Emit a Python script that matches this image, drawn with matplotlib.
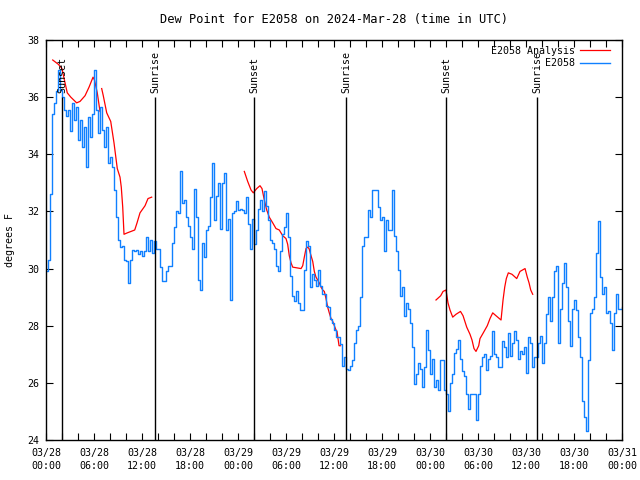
import numpy as np
import matplotlib
matplotlib.use('Agg')
import matplotlib.pyplot as plt

# hours since 2024-03-28 00:00 UTC
obs_step = 0.25
obs_vals = [
    29.9, 30.3, 32.6, 35.4, 35.8, 36.2, 36.95, 36.25,
    36.0, 35.55, 35.35, 35.55, 34.8, 35.8, 35.2, 35.65,
    34.5, 35.2, 34.25, 34.95, 33.55, 35.3, 34.6, 35.4,
    36.95, 35.55, 34.75, 35.65, 34.85, 34.25, 34.95, 33.7,
    33.9, 33.55, 32.75, 31.8, 31.0, 30.75, 30.8, 30.3,
    30.25, 29.5, 30.3, 30.65, 30.6, 30.65, 30.5, 30.6,
    30.45, 30.6, 31.1, 30.6, 31.0, 30.55, 30.95, 30.7,
    30.7, 30.05, 29.55, 29.55, 29.9, 30.1, 30.1, 30.9,
    31.45, 32.0, 31.95, 33.4, 32.3, 32.4, 31.8, 31.5,
    31.1, 30.7, 32.8, 31.8, 29.6, 29.25, 30.9, 30.4,
    31.35, 31.5, 32.5, 33.7, 31.7, 32.55, 33.0, 31.4,
    33.0, 33.35, 31.35, 31.75, 28.9, 31.95, 32.0, 32.35,
    32.05, 32.1, 32.05, 31.95, 32.5, 31.55, 30.7, 31.75,
    30.85, 31.35, 32.1, 32.4, 32.0, 32.7, 32.2, 31.7,
    31.0, 30.9, 30.7, 30.1, 29.9, 30.6, 31.2, 31.45,
    31.95, 31.1, 29.75, 29.05, 28.85, 29.2, 28.8, 28.55,
    28.55, 29.95, 30.95, 30.8, 29.35, 29.8, 29.6, 29.4,
    29.95, 29.4, 29.1, 29.1, 28.7, 28.65, 28.25, 28.1,
    27.85, 27.6, 27.6, 27.35, 26.6, 26.9, 26.5, 26.45,
    26.6, 26.8, 27.4, 27.85, 28.0, 29.0, 30.8, 31.1,
    31.1, 32.05, 31.8, 32.75, 32.75, 32.75, 32.15, 31.7,
    31.8, 30.6, 31.7, 31.35, 31.35, 32.75, 31.15, 30.6,
    29.95, 29.05, 29.35, 28.35, 28.8, 28.6, 28.1, 27.25,
    25.95, 26.3, 26.7, 26.5, 25.85, 26.55, 27.85, 27.15,
    26.3, 26.85, 25.85, 26.1, 25.75, 26.8, 26.8, 25.75,
    25.6, 25.0, 26.0, 26.3, 27.05, 27.2, 27.5, 26.85,
    26.4, 26.25, 25.6, 25.1, 25.6, 25.6, 25.6, 24.7,
    25.6, 26.6, 26.9, 27.0, 26.45, 26.85, 26.95, 27.8,
    27.0, 26.9, 26.55, 26.55, 27.45, 27.25, 26.9, 27.75,
    26.95, 27.4, 27.8, 27.5, 26.85, 27.1, 27.0, 27.25,
    26.35, 27.6, 27.4, 26.55, 26.9, 26.9, 27.4, 27.65,
    26.7, 27.4, 28.4, 29.0, 28.15, 29.0, 29.9, 30.1,
    27.4, 28.6, 29.5, 30.2, 29.35, 28.15, 27.3, 28.6,
    28.9, 28.55, 27.6, 26.9, 25.35, 24.8, 24.3, 26.8,
    28.45, 28.6, 29.0, 30.55, 31.65, 29.7, 29.1, 29.35,
    28.45, 28.5, 28.1, 27.15, 28.45, 29.1, 28.6, 28.6,
    28.65,
]

nan = float('nan')
ana_hours = [
    0.84, 1.54, 2.0, 2.3, 2.66, 3.1, 3.83, 4.25, 4.88, 5.38, 5.88, 6.06, 6.41, 6.75,
    6.85,
    6.96, 7.16, 7.59, 8.09, 8.5, 8.91, 9.25, 9.41, 9.59, 9.75, 10.16, 10.63, 11.09,
    11.38, 11.75, 12.13, 12.38, 12.75, 13.21,
    18.0,
    24.79, 25.21, 25.63, 25.91, 26.34, 26.75, 27.0, 27.29, 27.59, 27.91, 28.34, 28.75,
    29.16, 29.59, 30.0, 30.21, 30.41, 30.63, 30.84, 31.88, 32.09, 32.29, 32.5, 32.71,
    32.88, 33.13, 33.34, 33.54, 33.75, 33.96, 34.16, 34.38, 34.59, 34.79, 35.0, 35.21,
    35.41, 35.63, 35.84, 36.04, 36.25, 36.38, 36.5, 36.63, 36.81,
    42.0,
    48.75, 49.34, 49.63, 50.0, 50.25, 50.5, 50.84, 51.25, 51.81, 52.13, 52.59, 53.0,
    53.25, 53.5, 53.75, 54.09, 54.25, 54.66, 55.16, 55.5, 55.84, 56.25, 56.88, 57.13,
    57.34, 57.54, 57.79, 58.25, 58.84, 59.25, 59.88, 60.16, 60.38, 60.59, 60.84,
]
ana_vals = [
    37.3, 37.15, 37.0, 36.6, 36.15, 36.0, 35.8, 35.85, 36.05, 36.35, 36.7, 36.6, 36.15, 35.5,
    nan,
    36.3, 36.05, 35.45, 35.15, 34.4, 33.5, 33.2, 32.85, 32.15, 31.2, 31.25, 31.3, 31.35,
    31.6, 31.95, 32.1, 32.2, 32.45, 32.5,
    nan,
    33.4, 33.05, 32.75, 32.65, 32.8, 32.9, 32.8, 32.4, 32.05, 31.8, 31.6, 31.4,
    31.35, 31.15, 31.05, 30.85, 30.45, 30.2, 30.05, 30.0, 30.1, 30.4, 30.7, 30.75,
    30.7, 30.45, 30.25, 29.9, 29.7, 29.6, 29.5, 29.35, 29.25, 29.2, 28.95, 28.65,
    28.45, 28.25, 28.15, 28.0, 27.85, 27.8, 27.55, 27.3, 27.3,
    nan,
    28.9, 29.05, 29.2, 29.25, 28.8, 28.55, 28.3, 28.4, 28.5, 28.35, 27.95, 27.7,
    27.5, 27.2, 27.1, 27.3, 27.55, 27.75, 28.0, 28.25, 28.45, 28.35, 28.2, 28.9,
    29.35, 29.65, 29.85, 29.8, 29.65, 29.9, 30.0, 29.7, 29.5, 29.25, 29.1,
]

sunset_hours = [2.05, 26.05, 50.05]
sunrise_hours = [13.67, 37.55, 61.42]

tick_hours = [0, 6, 12, 18, 24, 30, 36, 42, 48, 54, 60, 66, 72]
tick_days = ['03/28', '03/28', '03/28', '03/28', '03/29', '03/29', '03/29',
             '03/29', '03/30', '03/30', '03/30', '03/30', '03/31']
tick_times = ['00:00', '06:00', '12:00', '18:00'] * 3 + ['00:00']

plt.rcParams['font.family'] = 'DejaVu Sans Mono'
plt.rcParams['font.size'] = 7.2

fig = plt.figure(figsize=(6.4, 4.8), dpi=100)
ax = fig.add_axes([46 / 640, 40 / 480, 576 / 640, 400 / 480])

obs_t = np.arange(len(obs_vals)) * obs_step
ax.plot(ana_hours, ana_vals, color='#ff0000', lw=0.9, label='E2058 Analysis')
ax.plot(obs_t, obs_vals, color='#1080ff', lw=1.0, drawstyle='steps-post',
        label='E2058')

for h in sunset_hours:
    ax.vlines(h, 24, 36, color='black', lw=1.0)
    ax.text(h, 36.15, 'Sunset', rotation=90, ha='center', va='bottom')
for h in sunrise_hours:
    ax.vlines(h, 24, 36, color='black', lw=1.0)
    ax.text(h, 36.15, 'Sunrise', rotation=90, ha='center', va='bottom')

ax.set_xlim(0, 72)
ax.set_ylim(24, 38)
ax.set_xticks(tick_hours)
ax.set_xticklabels([d + '\n' + t for d, t in zip(tick_days, tick_times)],
                   linespacing=1.35)
ax.set_xticks(np.arange(0, 73, 2), minor=True)
ax.set_yticks(np.arange(24, 39, 2))
ax.tick_params(which='both', direction='in', top=True, right=True,
               length=5, width=0.8, colors='black')
ax.tick_params(axis='x', pad=6)
ax.tick_params(axis='y', pad=5)
for s in ax.spines.values():
    s.set_linewidth(1.0)

ax.set_title('Dew Point for E2058 on 2024-Mar-28 (time in UTC)', pad=12)
fig.text(10 / 640, 0.5, 'degrees F', rotation=90, ha='center', va='center')

ax.legend(loc='upper right', frameon=False, markerfirst=False,
          handlelength=3.0, borderaxespad=0.2, labelspacing=0.25,
          handletextpad=0.5, bbox_to_anchor=(0.99, 1.0))

fig.savefig('out.png', dpi=100)
